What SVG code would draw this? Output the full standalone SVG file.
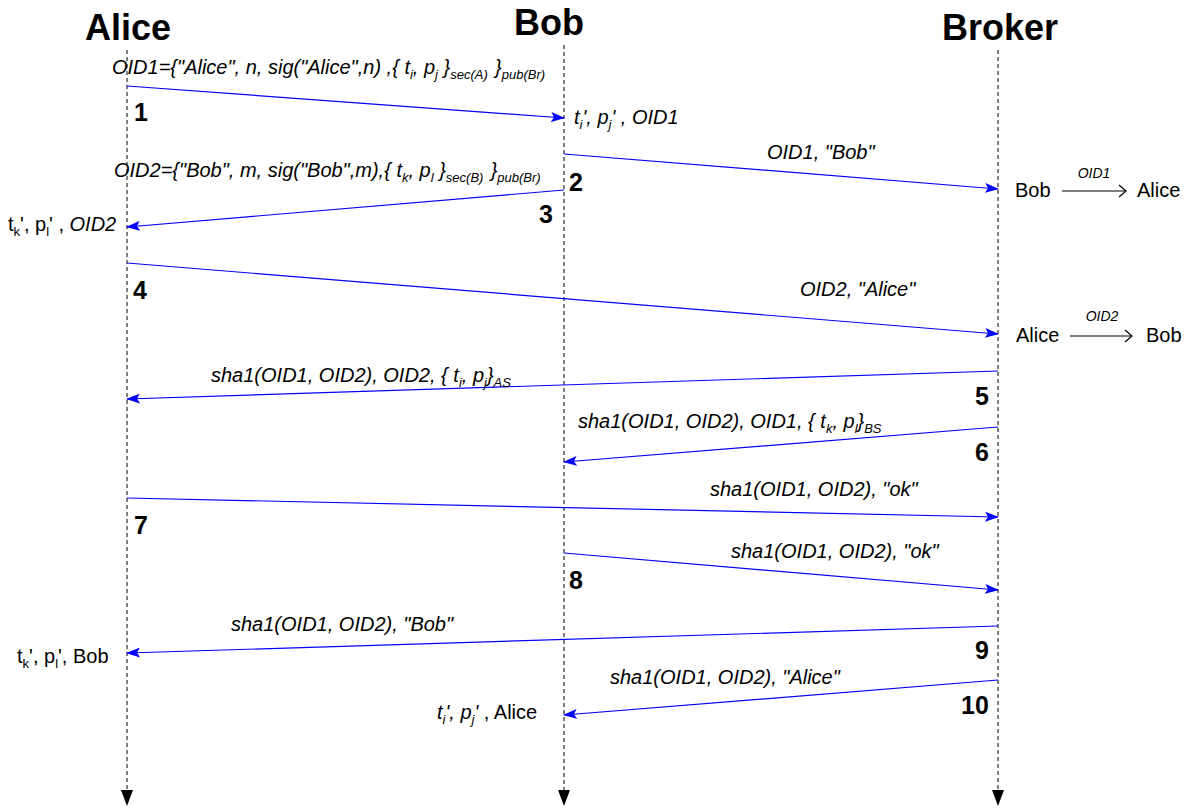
<svg xmlns="http://www.w3.org/2000/svg" width="1188" height="809" viewBox="0 0 1188 809">
  <style>
    text { font-family: "Liberation Sans", Arial, sans-serif; fill: #000; white-space: pre; }
    .head { font-size: 36px; font-weight: bold; }
    .num { font-size: 25px; font-weight: bold; }
    .lbl { font-size: 20px; font-style: italic; }
    .txt { font-size: 20px; }
    .small { font-size: 14px; font-style: italic; }
    .sub { font-size: 13px; }
    .life { stroke: #000; stroke-width: 1; stroke-dasharray: 4 3; fill: none; }
    .msg { stroke: #0000ff; stroke-width: 1.2; fill: none; marker-end: url(#blueHead); }
    .map { stroke: #000; stroke-width: 1.2; fill: none; }
  </style>
  <defs>
    <marker id="blueHead" viewBox="0 0 14 10" refX="13" refY="5" markerWidth="14" markerHeight="10" markerUnits="userSpaceOnUse" orient="auto">
      <path d="M0,0 L14,5 L0,10 L3,5 Z" fill="#0000ff"/>
    </marker>
  </defs>

  <!-- participants with their lifelines -->
  <g id="alice">
    <text class="head" x="128" y="40" text-anchor="middle">Alice</text>
    <line class="life" x1="127" y1="50" x2="127" y2="790"/>
    <path d="M121,790 L133,790 L127,806 Z" fill="#000"/>
  </g>
  <g id="bob">
    <text class="head" x="549" y="35" text-anchor="middle">Bob</text>
    <line class="life" x1="564" y1="45" x2="564" y2="790"/>
    <path d="M558,790 L570,790 L564,806 Z" fill="#000"/>
  </g>
  <g id="broker">
    <text class="head" x="1000" y="40" text-anchor="middle">Broker</text>
    <line class="life" x1="998" y1="50" x2="998" y2="790"/>
    <path d="M992,790 L1004,790 L998,806 Z" fill="#000"/>
  </g>

  <!-- messages -->
  <g id="connectors">
    <line class="msg" x1="127" y1="86" x2="564" y2="118"/>
    <line class="msg" x1="564" y1="154" x2="998" y2="189"/>
    <line class="msg" x1="564" y1="190" x2="127" y2="227"/>
    <line class="msg" x1="127" y1="263" x2="998" y2="334"/>
    <line class="msg" x1="998" y1="371" x2="127" y2="399"/>
    <line class="msg" x1="998" y1="427" x2="564" y2="462"/>
    <line class="msg" x1="127" y1="498" x2="998" y2="517"/>
    <line class="msg" x1="564" y1="553" x2="998" y2="590"/>
    <line class="msg" x1="998" y1="626" x2="127" y2="653"/>
    <line class="msg" x1="998" y1="680" x2="564" y2="715"/>
  </g>

  <!-- step numbers -->
  <g id="steps">
    <text class="num" x="134" y="121">1</text>
    <text class="num" x="569" y="191">2</text>
    <text class="num" x="539" y="223">3</text>
    <text class="num" x="133" y="299">4</text>
    <text class="num" x="975" y="405">5</text>
    <text class="num" x="975" y="461">6</text>
    <text class="num" x="134" y="534">7</text>
    <text class="num" x="569" y="589">8</text>
    <text class="num" x="975" y="659">9</text>
    <text class="num" x="961" y="714">10</text>
  </g>

  <!-- message labels -->
  <g id="labels">
    <text class="lbl" x="112" y="74">OID1={"Alice", n, sig("Alice",n) ,{ t<tspan class="sub" dy="5">i</tspan><tspan dy="-5">, p</tspan><tspan class="sub" dy="5">j</tspan><tspan dy="-5"> }</tspan><tspan class="sub" dy="5">sec(A)  </tspan><tspan dy="-5">}</tspan><tspan class="sub" dy="5">pub(Br)</tspan></text>
    <text class="lbl" x="574" y="124">t<tspan class="sub" dy="5">i</tspan><tspan dy="-5">', p</tspan><tspan class="sub" dy="5">j</tspan><tspan dy="-5">' , OID1</tspan></text>
    <text class="lbl" x="767" y="159">OID1, "Bob"</text>
    <text class="lbl" x="114" y="177">OID2={"Bob", m, sig("Bob",m),{ t<tspan class="sub" dy="5">k</tspan><tspan dy="-5">, p</tspan><tspan class="sub" dy="5">l</tspan><tspan dy="-5"> }</tspan><tspan class="sub" dy="5">sec(B)  </tspan><tspan dy="-5">}</tspan><tspan class="sub" dy="5">pub(Br)</tspan></text>
    <text class="txt" x="8" y="231">t<tspan class="sub" dy="5">k</tspan><tspan dy="-5">', p</tspan><tspan class="sub" dy="5">l</tspan><tspan dy="-5">' , </tspan><tspan font-style="italic">OID2</tspan></text>
    <text class="lbl" x="800" y="296">OID2, "Alice"</text>
    <text class="lbl" x="211" y="382">sha1(OID1, OID2), OID2, { t<tspan class="sub" dy="5">i</tspan><tspan dy="-5">, p</tspan><tspan class="sub" dy="5">j</tspan><tspan dy="-5">}</tspan><tspan class="sub" dy="5">AS</tspan></text>
    <text class="lbl" x="578" y="428">sha1(OID1, OID2), OID1, { t<tspan class="sub" dy="5">k</tspan><tspan dy="-5">, p</tspan><tspan class="sub" dy="5">l</tspan><tspan dy="-5">}</tspan><tspan class="sub" dy="5">BS</tspan></text>
    <text class="lbl" x="710" y="496">sha1(OID1, OID2), "ok"</text>
    <text class="lbl" x="731" y="558">sha1(OID1, OID2), "ok"</text>
    <text class="lbl" x="231" y="631">sha1(OID1, OID2), "Bob"</text>
    <text class="txt" x="17" y="663">t<tspan class="sub" dy="5">k</tspan><tspan dy="-5">', p</tspan><tspan class="sub" dy="5">l</tspan><tspan dy="-5">', Bob</tspan></text>
    <text class="lbl" x="610" y="684">sha1(OID1, OID2), "Alice"</text>
    <text class="txt" x="437" y="719"><tspan font-style="italic">t</tspan><tspan class="sub" font-style="italic" dy="5">i</tspan><tspan dy="-5" font-style="italic">', p</tspan><tspan class="sub" font-style="italic" dy="5">j</tspan><tspan dy="-5" font-style="italic">' </tspan><tspan>, Alice</tspan></text>
  </g>

  <!-- broker's mapping notes -->
  <g id="mapping1">
    <text class="txt" x="1015" y="197">Bob</text>
    <line class="map" x1="1062" y1="191" x2="1125" y2="191"/>
    <path class="map" d="M1119,185 L1126,191 L1119,197"/>
    <text class="small" x="1094" y="178" text-anchor="middle">OID1</text>
    <text class="txt" x="1137" y="197">Alice</text>
  </g>
  <g id="mapping2">
    <text class="txt" x="1016" y="342">Alice</text>
    <line class="map" x1="1070" y1="336" x2="1131" y2="336"/>
    <path class="map" d="M1125,330 L1132,336 L1125,342"/>
    <text class="small" x="1102" y="321" text-anchor="middle">OID2</text>
    <text class="txt" x="1146" y="342">Bob</text>
  </g>
</svg>
